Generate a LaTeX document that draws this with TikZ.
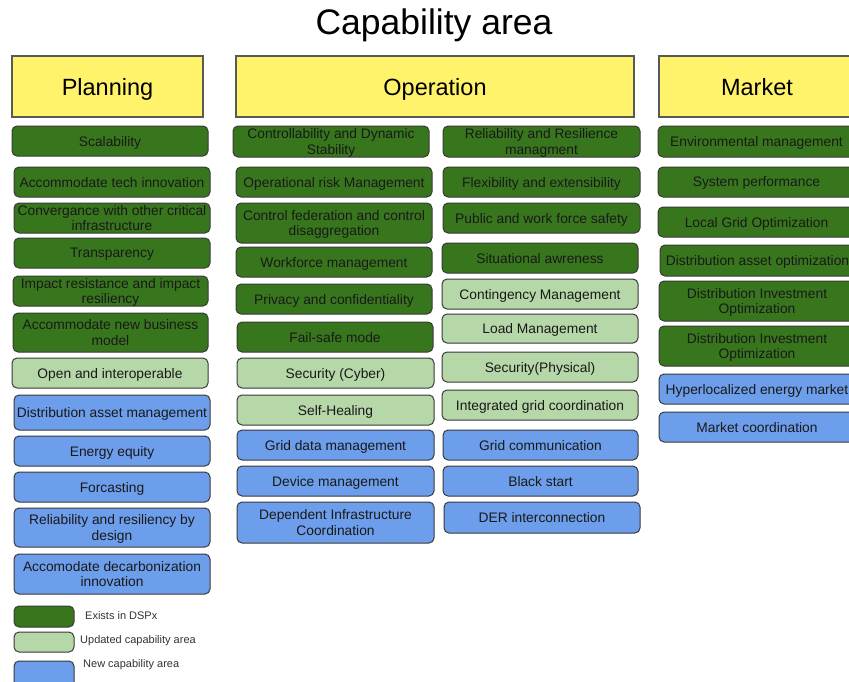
\documentclass[tikz,border=0pt]{standalone}
\usepackage{fontspec}
\setmainfont{Liberation Sans}
\definecolor{hdr}{HTML}{FFF36B}
\definecolor{dgreen}{HTML}{38761D}
\definecolor{lgreen}{HTML}{B6D7A8}
\definecolor{nblue}{HTML}{6D9EEB}
\definecolor{edge}{HTML}{3A3A3A}
\newcommand\capbox[7]{\node[#6, minimum width={#4-#2}, minimum height={#5-#3}] (#1) at ({(#2+#4)/2},{(#3+#5)/2}) {#7};}
\begin{document}
\begin{tikzpicture}[x=1pt,y=-1pt,
  base/.style={draw=edge, line width=1pt, rounded corners=5pt, align=center, inner sep=0pt, text depth=0pt, text=black!90, font=\fontsize{13.8}{15.5}\selectfont},
  hdrbox/.style={draw=black!65, line width=1.2pt, fill=hdr, align=center, inner sep=0pt, text depth=0pt, font=\fontsize{23.5}{26}\selectfont},
  exist/.style={base, fill=dgreen},
  upd/.style={base, fill=lgreen},
  new/.style={base, fill=nblue},
  legtxt/.style={anchor=west, inner sep=0pt, text=black!80, font=\fontsize{11}{13}\selectfont}]
\clip (0,0) rectangle (849,681);
\fill[white] (0,0) rectangle (849,681);
\node[font=\fontsize{35.5}{40}\selectfont, inner sep=0pt, text depth=0pt] (title) at (434,22) {Capability area};
% headers
\capbox{hplan}{12}{56}{203}{117}{hdrbox}{Planning}
\capbox{hop}{236}{56}{634}{117}{hdrbox}{Operation}
\capbox{hmkt}{659}{56}{855}{117}{hdrbox}{Market}
% Planning
\capbox{p1}{12}{126}{208}{156}{exist}{Scalability}
\capbox{p2}{14}{167}{210}{197}{exist}{Accommodate tech innovation}
\capbox{p3}{14}{203}{210}{233}{exist}{Convergance with other critical\\infrastructure}
\capbox{p4}{14}{238}{210}{268}{exist}{Transparency}
\capbox{p5}{13}{276}{208}{306}{exist}{Impact resistance and impact\\resiliency}
\capbox{p6}{13}{313}{208}{352}{exist}{Accommodate new business\\model}
\capbox{p7}{12}{358}{208}{388}{upd}{Open and interoperable}
\capbox{p8}{14}{395}{210}{430}{new}{Distribution asset management}
\capbox{p9}{14}{436}{210}{466}{new}{Energy equity}
\capbox{p10}{14}{472}{210}{502}{new}{Forcasting}
\capbox{p11}{14}{508}{210}{547}{new}{Reliability and resiliency by\\design}
\capbox{p12}{14}{554}{210}{594}{new}{Accomodate decarbonization\\innovation}
% Operation left
\capbox{o1}{233}{126}{429}{157}{exist}{Controllability and Dynamic\\Stability}
\capbox{o2}{236}{167}{432}{197}{exist}{Operational risk Management}
\capbox{o3}{236}{203}{432}{243}{exist}{Control federation and control\\disaggregation}
\capbox{o4}{236}{247}{432}{277}{exist}{Workforce management}
\capbox{o5}{236}{284}{432}{314}{exist}{Privacy and confidentiality}
\capbox{o6}{237}{322}{433}{352}{exist}{Fail-safe mode}
\capbox{o7}{237}{358}{434}{388}{upd}{Security (Cyber)}
\capbox{o8}{237}{395}{434}{425}{upd}{Self-Healing}
\capbox{o9}{237}{430}{434}{460}{new}{Grid data management}
\capbox{o10}{237}{466}{434}{496}{new}{Device management}
\capbox{o11}{237}{502}{434}{543}{new}{Dependent Infrastructure\\Coordination}
% Operation right
\capbox{r1}{443}{126}{640}{157}{exist}{Reliability and Resilience\\managment}
\capbox{r2}{443}{167}{640}{197}{exist}{Flexibility and extensibility}
\capbox{r3}{443}{203}{640}{233}{exist}{Public and work force safety}
\capbox{r4}{442}{243}{638}{273}{exist}{Situational awreness}
\capbox{r5}{442}{279}{638}{309}{upd}{Contingency Management}
\capbox{r6}{442}{314}{638}{343}{upd}{Load Management}
\capbox{r7}{442}{352}{638}{382}{upd}{Security(Physical)}
\capbox{r8}{442}{390}{638}{420}{upd}{Integrated grid coordination}
\capbox{r9}{443}{430}{638}{460}{new}{Grid communication}
\capbox{r10}{443}{466}{638}{496}{new}{Black start}
\capbox{r11}{444}{502}{640}{533}{new}{DER interconnection}
% Market
\capbox{m1}{658}{126}{855}{157}{exist}{Environmental management}
\capbox{m2}{658}{167}{855}{197}{exist}{System performance}
\capbox{m3}{658}{207}{855}{237}{exist}{Local Grid Optimization}
\capbox{m4}{660}{245}{855}{276}{exist}{Distribution asset optimization}
\capbox{m5}{659}{281}{855}{321}{exist}{Distribution Investment\\Optimization}
\capbox{m6}{659}{326}{855}{366}{exist}{Distribution Investment\\Optimization}
\capbox{m7}{659}{374}{855}{404}{new}{Hyperlocalized energy market}
\capbox{m8}{659}{412}{855}{442}{new}{Market coordination}
% Legend
\capbox{l1}{14}{606}{74}{627}{exist}{}
\capbox{l2}{14}{632}{74}{652}{upd}{}
\capbox{l3}{14}{661}{74}{690}{new}{}
\node[legtxt] (lt1) at (85,616) {Exists in DSPx};
\node[legtxt] (lt2) at (80,641) {Updated capability area};
\node[legtxt] (lt3) at (83,665) {New capability area};
\end{tikzpicture}
\end{document}
